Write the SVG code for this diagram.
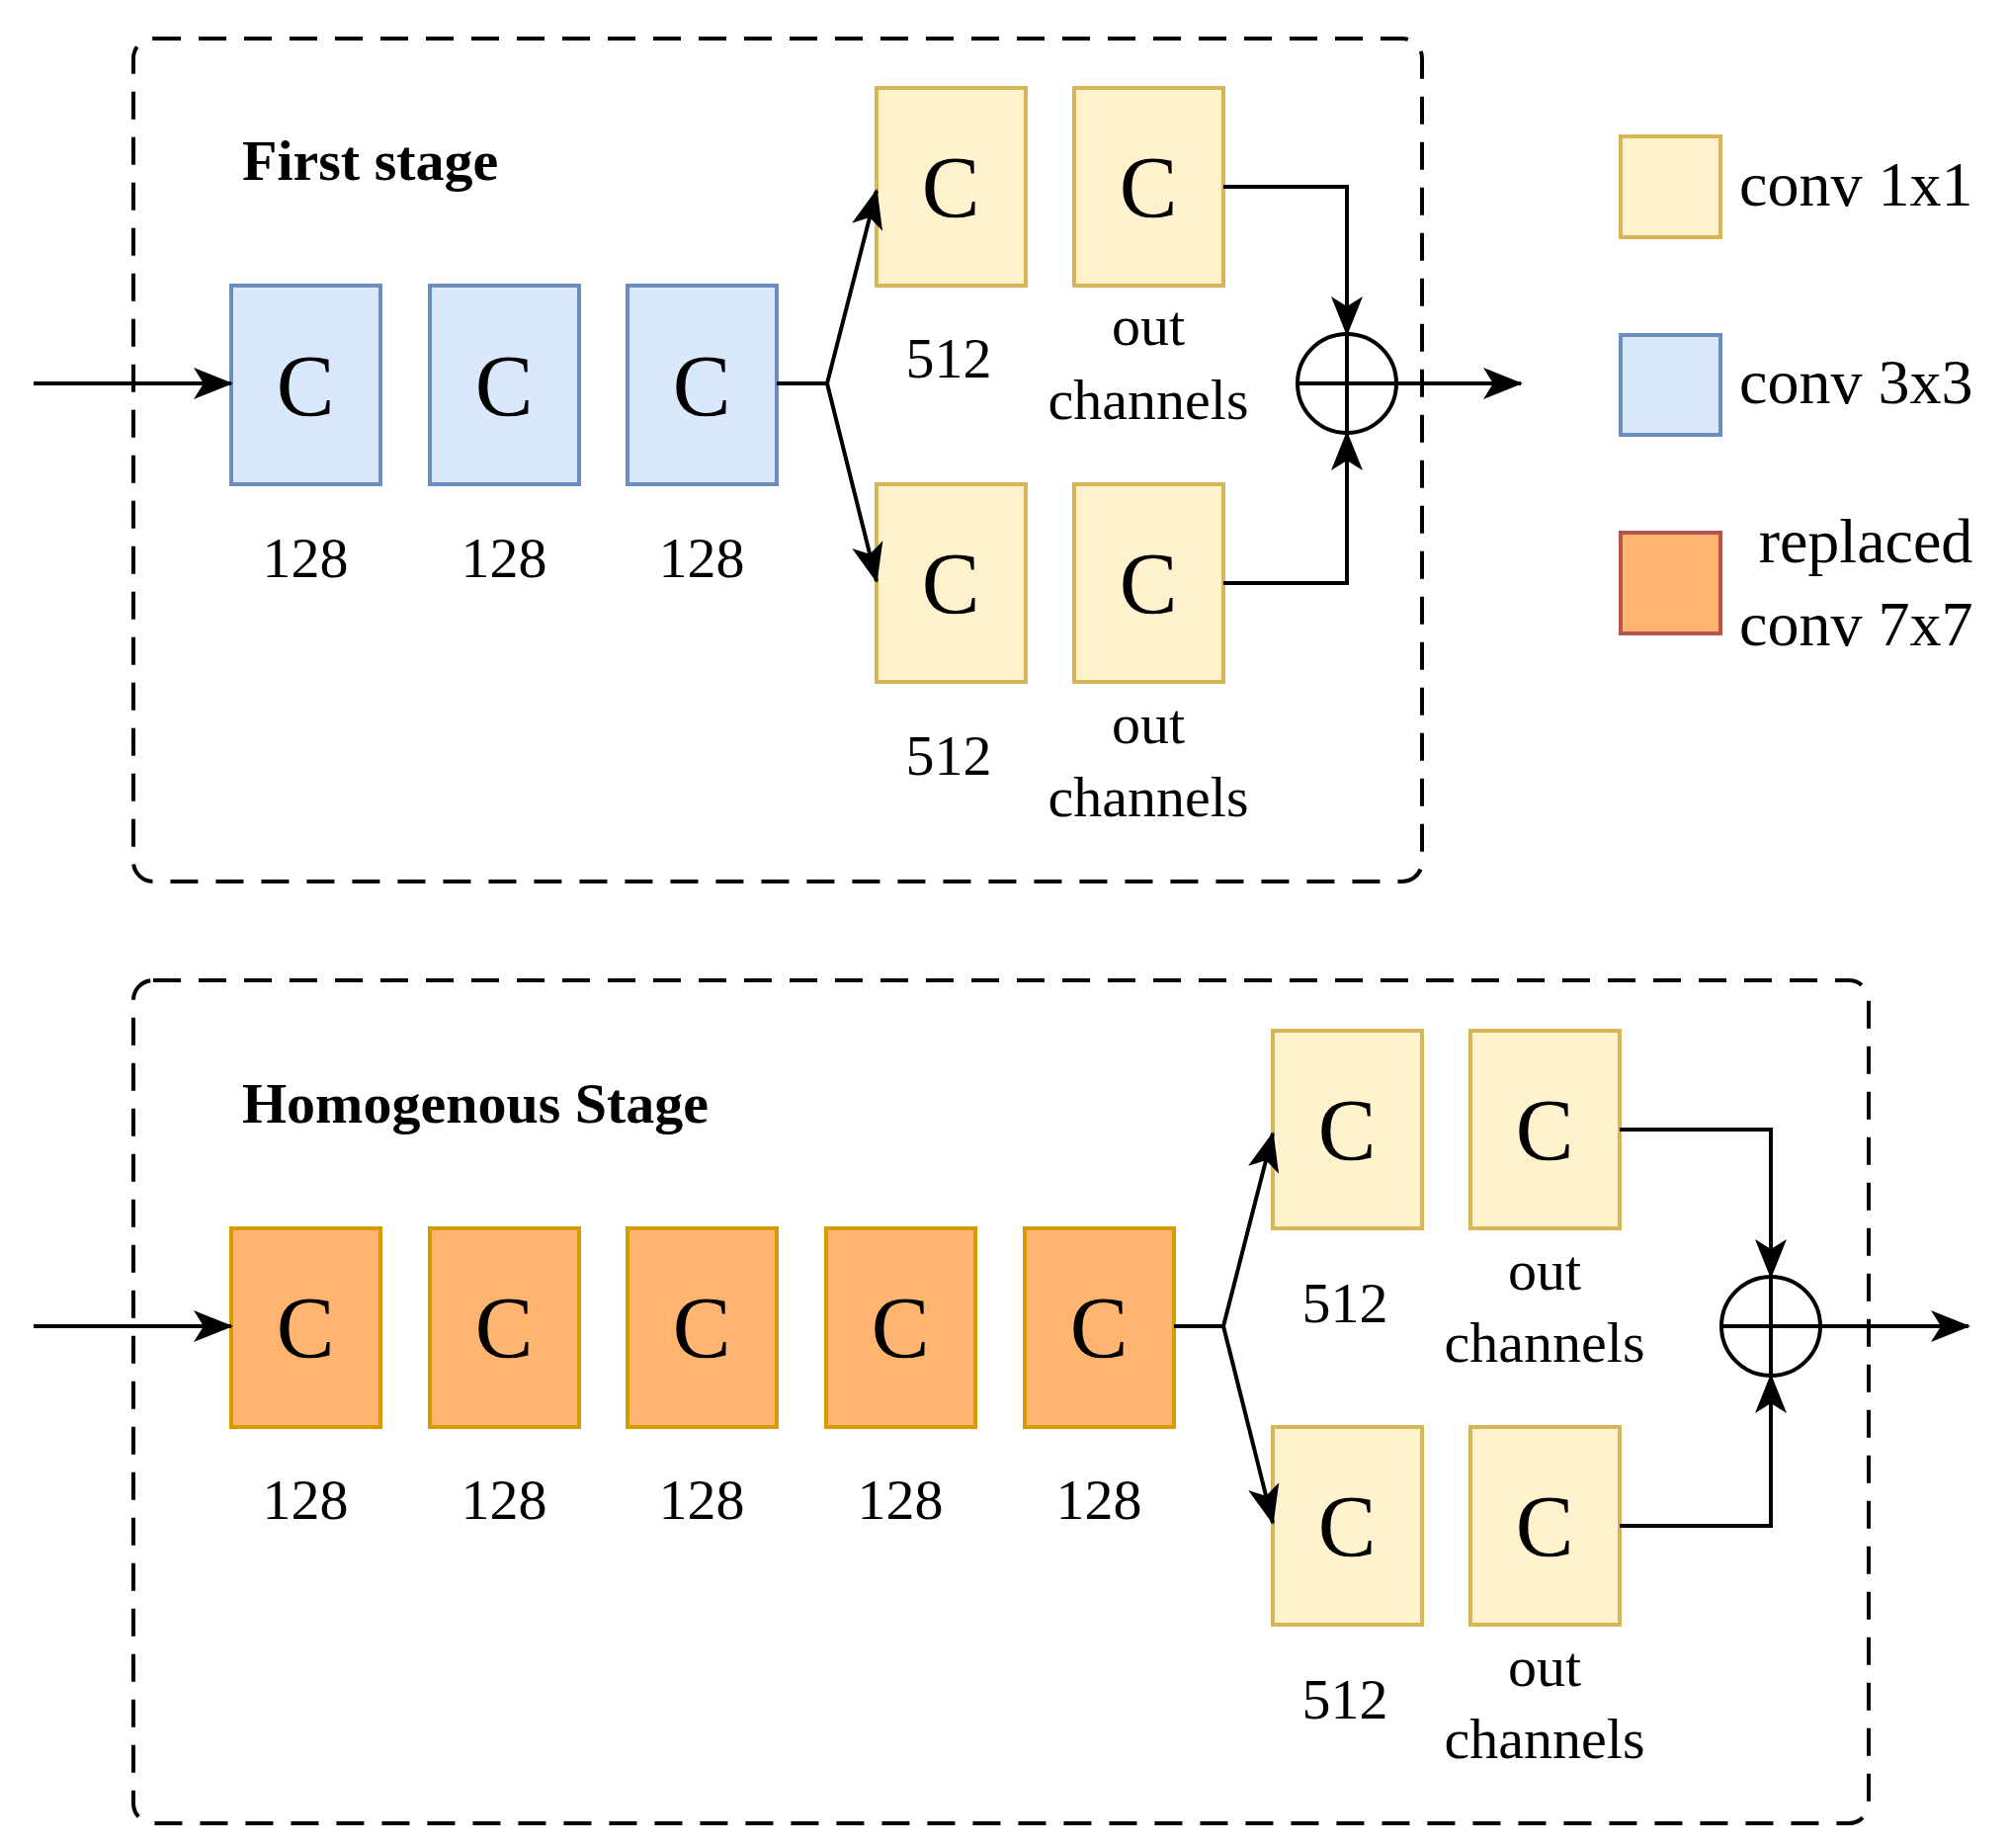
<svg xmlns="http://www.w3.org/2000/svg" width="2034" height="1870" viewBox="0 0 2034 1870">
<style>
text{font-family:"Liberation Serif","Times New Roman",serif;fill:#000}
.c{font-size:88px;text-anchor:middle}
.l{font-size:58px;text-anchor:middle}
.g{font-size:64px}
.t{font-size:58px;font-weight:bold}
.b{fill:#dae8fc;stroke:#6c8ebf;stroke-width:4}
.y{fill:#fff2cc;stroke:#d6b656;stroke-width:4}
.o{fill:#ffb570;stroke:#d79b00;stroke-width:4}
.r{fill:#ffb570;stroke:#b85450;stroke-width:4}
.frame{fill:none;stroke:#000;stroke-width:4;stroke-dasharray:28 18}
.w{fill:none;stroke:#000;stroke-width:4}
</style>
<defs>
<marker id="a" markerWidth="12" markerHeight="12" refX="10" refY="6" orient="auto" markerUnits="userSpaceOnUse" viewBox="0 0 12 12"><path d="M0,0 L12,6 L0,12 L3,6 Z"/></marker>
</defs>
<defs><marker id="m" viewBox="0 0 40 40" refX="38" refY="20" markerWidth="40" markerHeight="40" orient="auto" markerUnits="userSpaceOnUse"><path d="M0,4 L40,20 L0,36 L10,20 Z" fill="#000"/></marker></defs>
<g id="frames">
<rect class="frame" x="135" y="39" width="1304" height="853" rx="20"/>
<rect class="frame" x="135" y="992" width="1756" height="853" rx="20"/>
<text class="t" x="245" y="182">First stage</text>
<text class="t" x="245" y="1136">Homogenous Stage</text>
</g>
<g id="stage1-nodes">
<g id="b1"><rect class="b" x="234" y="289" width="151" height="201"/><text class="c" x="309" y="420">C</text><text class="l" x="309" y="584">128</text></g>
<g id="b2"><rect class="b" x="435" y="289" width="151" height="201"/><text class="c" x="510" y="420">C</text><text class="l" x="510" y="584">128</text></g>
<g id="b3"><rect class="b" x="635" y="289" width="151" height="201"/><text class="c" x="710" y="420">C</text><text class="l" x="710" y="584">128</text></g>
<g id="y1"><rect class="y" x="887" y="89" width="151" height="200"/><text class="c" x="962" y="219">C</text><text class="l" x="960" y="382">512</text></g>
<g id="y2"><rect class="y" x="1087" y="89" width="151" height="200"/><text class="c" x="1162" y="219">C</text><text class="l" x="1162" y="349">out</text><text class="l" x="1162" y="424">channels</text></g>
<g id="y3"><rect class="y" x="887" y="490" width="151" height="200"/><text class="c" x="962" y="620">C</text><text class="l" x="960" y="784">512</text></g>
<g id="y4"><rect class="y" x="1087" y="490" width="151" height="200"/><text class="c" x="1162" y="620">C</text><text class="l" x="1162" y="752">out</text><text class="l" x="1162" y="826">channels</text></g>
<g id="sum1"><circle class="w" cx="1363" cy="388" r="50"/><path class="w" d="M1313,388H1413M1363,338V438"/></g>
</g>
<g id="stage2-nodes">
<g id="o1"><rect class="o" x="234" y="1243" width="151" height="201"/><text class="c" x="309" y="1373">C</text><text class="l" x="309" y="1537">128</text></g>
<g id="o2"><rect class="o" x="435" y="1243" width="151" height="201"/><text class="c" x="510" y="1373">C</text><text class="l" x="510" y="1537">128</text></g>
<g id="o3"><rect class="o" x="635" y="1243" width="151" height="201"/><text class="c" x="710" y="1373">C</text><text class="l" x="710" y="1537">128</text></g>
<g id="o4"><rect class="o" x="836" y="1243" width="151" height="201"/><text class="c" x="911" y="1373">C</text><text class="l" x="911" y="1537">128</text></g>
<g id="o5"><rect class="o" x="1037" y="1243" width="151" height="201"/><text class="c" x="1112" y="1373">C</text><text class="l" x="1112" y="1537">128</text></g>
<g id="y5"><rect class="y" x="1288" y="1043" width="151" height="200"/><text class="c" x="1363" y="1173">C</text><text class="l" x="1361" y="1338">512</text></g>
<g id="y6"><rect class="y" x="1488" y="1043" width="151" height="200"/><text class="c" x="1563" y="1173">C</text><text class="l" x="1563" y="1305">out</text><text class="l" x="1563" y="1378">channels</text></g>
<g id="y7"><rect class="y" x="1288" y="1444" width="151" height="200"/><text class="c" x="1363" y="1574">C</text><text class="l" x="1361" y="1739">512</text></g>
<g id="y8"><rect class="y" x="1488" y="1444" width="151" height="200"/><text class="c" x="1563" y="1574">C</text><text class="l" x="1563" y="1706">out</text><text class="l" x="1563" y="1779">channels</text></g>
<g id="sum2"><circle class="w" cx="1792" cy="1342" r="50"/><path class="w" d="M1742,1342H1842M1792,1292V1392"/></g>
</g>
<g id="legend">
<rect class="y" x="1640" y="138" width="101" height="102"/><text class="g" x="1760" y="208">conv 1x1</text>
<rect class="b" x="1640" y="339" width="101" height="101"/><text class="g" x="1760" y="408">conv 3x3</text>
<rect class="r" x="1640" y="539" width="101" height="102"/><text class="g" x="1888" y="569" text-anchor="middle">replaced</text><text class="g" x="1760" y="653">conv 7x7</text>
</g>
<g id="connectors">
<path class="w" d="M34,388H234" marker-end="url(#m)"/>
<path class="w" d="M786,388H837L887,193" marker-end="url(#m)"/>
<path class="w" d="M837,388L887,588" marker-end="url(#m)"/>
<path class="w" d="M1238,189H1363V338" marker-end="url(#m)"/>
<path class="w" d="M1238,590H1363V438" marker-end="url(#m)"/>
<path class="w" d="M1413,388H1539" marker-end="url(#m)"/>
<path class="w" d="M34,1342H234" marker-end="url(#m)"/>
<path class="w" d="M1188,1342H1238L1288,1147" marker-end="url(#m)"/>
<path class="w" d="M1238,1342L1288,1541" marker-end="url(#m)"/>
<path class="w" d="M1639,1143H1792V1292" marker-end="url(#m)"/>
<path class="w" d="M1639,1544H1792V1392" marker-end="url(#m)"/>
<path class="w" d="M1842,1342H1992" marker-end="url(#m)"/>
</g>
</svg>
